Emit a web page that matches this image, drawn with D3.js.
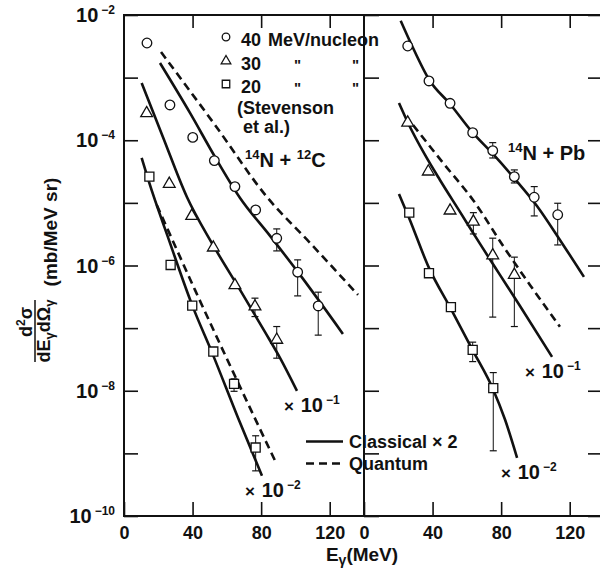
<!doctype html>
<html lang="en">
<head>
<meta charset="utf-8">
<title>14N photon spectra</title>
<script src="https://cdn.jsdelivr.net/npm/d3@7"></script>
<style>
body{
	margin:0px;
	padding:0px;
	background:#fff;
}
svg{
	display:block;
	font-family:"Liberation Sans", Arial, sans-serif;
	font-weight:bold;
}
</style>
</head>
<body>
<svg id="chartSvg"></svg>
<script>
// values, E in MeV, d2sigma in mb/MeV sr
var xTickVals = [0, 40, 80, 120];
var yDecades = [1e-2, 1e-3, 1e-4, 1e-5, 1e-6, 1e-7, 1e-8, 1e-9, 1e-10];
var yLabelExp = [-2, -4, -6, -8, -10];

// 14N + 12C, data (Stevenson et al.)
var cE40 = [13.4, 26.8, 40.1, 52.7, 64.7, 76.8, 89.1, 101.3, 113.3];
var cV40 = [3.57e-3, 3.66e-4, 1.11e-4, 4.73e-5, 1.82e-5, 7.71e-6, 2.72e-6, 7.82e-7, 2.26e-7];
var cLo40 = [null, null, null, null, null, null, 1.71e-6, 3.27e-7, 7.73e-8];
var cHi40 = [null, null, null, null, null, null, 3.84e-6, 1.23e-6, 3.75e-7];
var cE30 = [13.2, 26.4, 39.5, 52.1, 64.7, 76.4, 89.1];
var cV30 = [2.70e-4, 2.01e-5, 6.19e-6, 1.93e-6, 4.84e-7, 2.21e-7, 6.50e-8];
var cLo30 = [null, null, null, null, null, 1.53e-7, 3.31e-8];
var cHi30 = [null, null, null, null, null, 3.01e-7, 1.06e-7];
var cE20 = [14.8, 27.2, 39.8, 52.1, 64.2, 76.8];
var cV20 = [2.62e-5, 1.02e-6, 2.29e-7, 4.23e-8, 1.29e-8, 1.24e-9];
var cLo20 = [null, null, null, null, 9.8e-9, 5.26e-10];
var cHi20 = [null, null, null, null, 1.55e-8, 1.91e-9];

// 14N + 12C, calculations
var cClE40 = [21.0, 38.5, 53.1, 67.7, 85.2, 102.7, 127.7];
var cClV40 = [1.71e-3, 2.73e-4, 5.41e-5, 1.20e-5, 2.97e-6, 7.08e-7, 8.09e-8];
var cQuE40 = [21.6, 53.1, 83.4, 108.5, 136.5];
var cQuV40 = [2.56e-3, 1.75e-4, 1.24e-5, 2.30e-6, 3.40e-7];
var cClE30 = [10.3, 22.7, 36.7, 51.9, 67.7, 82.2, 91.0, 100.9];
var cClV30 = [8.22e-4, 1.13e-4, 1.24e-5, 2.13e-6, 4.08e-7, 8.71e-8, 3.35e-8, 9.95e-9];
var cClE20 = [10.3, 14.2, 26.8, 39.7, 51.9, 66.5, 80.5];
var cClV20 = [5.21e-5, 2.32e-5, 2.30e-6, 2.35e-7, 3.74e-8, 3.70e-9, 4.39e-10];
var cQuE20 = [19.1, 41.4, 63.6, 88.7];
var cQuV20 = [9.27e-6, 4.08e-7, 2.00e-8, 7.06e-10];

// 14N + Pb, data
var pE40 = [25.5, 37.9, 50.2, 63.4, 75.1, 87.7, 99.3, 113.0];
var pV40 = [3.20e-3, 8.85e-4, 3.89e-4, 1.32e-4, 6.82e-5, 2.62e-5, 1.23e-5, 6.46e-6];
var pLo40 = [null, null, null, null, 5.21e-5, 2.08e-5, 6.19e-6, 2.13e-6];
var pHi40 = [null, null, null, null, 9.16e-5, 3.36e-5, 1.82e-5, 9.86e-6];
var pE30 = [25.5, 37.5, 50.2, 63.8, 75.1, 87.7];
var pV30 = [1.91e-4, 3.16e-5, 7.52e-6, 5.01e-6, 1.45e-6, 7.08e-7];
var pLo30 = [null, null, null, 3.19e-6, 1.50e-7, 1.06e-7];
var pHi30 = [null, null, null, 6.98e-6, 2.73e-6, 1.36e-6];
var pE20 = [26.4, 37.9, 50.7, 63.4, 75.4];
var pV20 = [6.98e-6, 7.53e-7, 2.16e-7, 4.50e-8, 1.10e-8];
var pLo20 = [null, null, null, 2.92e-8, 1.10e-9];
var pHi20 = [null, null, null, 5.97e-8, 1.95e-8];

// 14N + Pb, calculations
var pClE40 = [21.4, 27.8, 38.1, 50.2, 63.0, 75.2, 87.5, 100.9, 114.3, 128.3];
var pClV40 = [8.11e-3, 3.32e-3, 9.18e-4, 3.79e-4, 1.36e-4, 6.04e-5, 2.50e-5, 8.93e-6, 2.56e-6, 6.58e-7];
var pClE30 = [20.4, 25.7, 35.6, 44.3, 56.0, 67.7, 79.3, 91.0, 109.7];
var pClV30 = [3.94e-4, 1.89e-4, 5.82e-5, 2.32e-5, 7.18e-6, 2.21e-6, 7.08e-7, 2.26e-7, 3.48e-8];
var pQuE30 = [28.6, 46.1, 63.6, 82.3, 96.8, 114.3];
var pQuV30 = [1.75e-4, 4.35e-5, 1.11e-5, 1.84e-6, 4.90e-7, 1.05e-7];
var pClE20 = [20.4, 26.3, 37.9, 50.7, 63.6, 75.2, 82.3, 89.3];
var pClV20 = [1.39e-5, 5.75e-6, 9.16e-7, 2.03e-7, 4.34e-8, 1.07e-8, 3.44e-9, 8.49e-10];

var ink = "#111";
var width = 600, height = 569;
var mTop = 15, mBottom = 516, mLeft = 124, mMid = 364, mRight = 604;

var svg = d3.select("#chartSvg").attr("width", width).attr("height", height);

var y = d3.scaleLog().domain([1e-10, 1e-2]).range([mBottom, mTop]);
var xL = d3.scaleLinear().domain([0, 140]).range([mLeft, mMid]);
var xR = d3.scaleLinear().domain([0, 140]).range([mMid, mRight]);

function cleanAxis(g){
	g.select(".domain").remove();
	g.selectAll(".tick line").attr("stroke", ink).attr("stroke-width", 1.6);
	g.selectAll(".tick text").attr("fill", ink).attr("font-size", 18).attr("font-family", "Liberation Sans, Arial, sans-serif").attr("font-weight", "bold");
}

//x axes, bottom with labels, top ticks only
[xL, xR].forEach(function(sc){
	svg.append("g")
		.attr("transform", "translate(0," + mBottom + ")")
		.call(d3.axisBottom(sc).tickValues(xTickVals).tickSize(-14).tickPadding(10).tickFormat(d3.format("d")))
		.call(cleanAxis);
	svg.append("g")
		.attr("transform", "translate(0," + mTop + ")")
		.call(d3.axisTop(sc).tickValues(xTickVals.slice(1)).tickSize(-13).tickFormat(""))
		.call(cleanAxis);
});

//y axes: left edge, divider, right edge
svg.append("g").attr("transform", "translate(" + mLeft + ",0)")
	.call(d3.axisLeft(y).tickValues(yDecades).tickSize(-14).tickFormat("")).call(cleanAxis);
svg.append("g").attr("transform", "translate(" + mMid + ",0)")
	.call(d3.axisLeft(y).tickValues(yDecades).tickSize(-15).tickFormat("")).call(cleanAxis);
svg.append("g").attr("transform", "translate(" + width + ",0)")
	.call(d3.axisRight(y).tickValues(yDecades).tickSize(-12).tickFormat("")).call(cleanAxis);

//y tick labels 10^n
yLabelExp.forEach(function(e){
	var t = svg.append("text")
		.attr("x", 115)
		.attr("y", y(Math.pow(10, e)) + 7)
		.attr("text-anchor", "end")
		.attr("fill", ink);
	t.append("tspan").attr("font-size", 20).text("10");
	t.append("tspan").attr("font-size", 12).attr("dy", -8).attr("dx", 3).text("\u2212" + (-e));
});

//frame
svg.append("g").selectAll("line")
	.data([[mLeft, mTop, width + 2, mTop], [mLeft, mBottom, width + 2, mBottom], [mLeft, mTop, mLeft, mBottom], [mMid, mTop, mMid, mBottom]])
	.join("line")
	.attr("x1", function(d){return d[0];})
	.attr("y1", function(d){return d[1];})
	.attr("x2", function(d){return d[2];})
	.attr("y2", function(d){return d[3];})
	.attr("stroke", ink)
	.attr("stroke-width", 2)
	.attr("stroke-linecap", "square");

//curves
function drawCurve(sc, E, V, dashed){
	var line = d3.line()
		.x(function(d){return sc(d[0]);})
		.y(function(d){return y(d[1]);})
		.curve(d3.curveMonotoneX);
	svg.append("path")
		.attr("d", line(d3.zip(E, V)))
		.attr("fill", "none")
		.attr("stroke", ink)
		.attr("stroke-width", 2.6)
		.attr("stroke-dasharray", dashed ? "8,5" : null);
}
drawCurve(xL, cClE40, cClV40, false);
drawCurve(xL, cQuE40, cQuV40, true);
drawCurve(xL, cClE30, cClV30, false);
drawCurve(xL, cClE20, cClV20, false);
drawCurve(xL, cQuE20, cQuV20, true);
drawCurve(xR, pClE40, pClV40, false);
drawCurve(xR, pClE30, pClV30, false);
drawCurve(xR, pQuE30, pQuV30, true);
drawCurve(xR, pClE20, pClV20, false);

//markers
function marker(sel, shape, big){
	if(shape == "circle"){
		sel.append("circle").attr("r", big ? 4.8 : 3.8);
	}else{
		var type = shape == "triangle" ? d3.symbolTriangle : d3.symbolSquare;
		var size = shape == "triangle" ? (big ? 60 : 40) : (big ? 82 : 56);
		sel.append("path").attr("d", d3.symbol().type(type).size(size)());
	}
	sel.attr("fill", "#fff").attr("stroke", ink).attr("stroke-width", 1.3);
}
function drawPoints(sc, E, V, lo, hi, shape){
	var g = svg.append("g");
	for(var i = 0; i < E.length; i++){
		if(hi[i] != null){
			var cx = sc(E[i]);
			g.append("line").attr("x1", cx).attr("x2", cx).attr("y1", y(hi[i])).attr("y2", y(lo[i]))
				.attr("stroke", ink).attr("stroke-width", 1);
			[hi[i], lo[i]].forEach(function(v){
				g.append("line").attr("x1", cx - 3.5).attr("x2", cx + 3.5).attr("y1", y(v)).attr("y2", y(v))
					.attr("stroke", ink).attr("stroke-width", 1.2);
			});
		}
		marker(g.append("g").attr("transform", "translate(" + sc(E[i]) + "," + y(V[i]) + ")"), shape, true);
	}
}
drawPoints(xL, cE40, cV40, cLo40, cHi40, "circle");
drawPoints(xL, cE30, cV30, cLo30, cHi30, "triangle");
drawPoints(xL, cE20, cV20, cLo20, cHi20, "square");
drawPoints(xR, pE40, pV40, pLo40, pHi40, "circle");
drawPoints(xR, pE30, pV30, pLo30, pHi30, "triangle");
drawPoints(xR, pE20, pV20, pLo20, pHi20, "square");

//legend for data
var legRows = [["circle", "40", "MeV/nucleon", 37], ["triangle", "30", "", 61], ["square", "20", "", 84]];
legRows.forEach(function(r){
	marker(svg.append("g").attr("transform", "translate(226," + r[3] + ")"), r[0], false);
	svg.append("text").attr("x", 241).attr("y", r[3] + 9).attr("font-size", 18).attr("fill", ink).text(r[1]);
	if(r[2]){
		svg.append("text").attr("x", 268).attr("y", r[3] + 9).attr("font-size", 18).attr("fill", ink).text(r[2]);
	}else{
		svg.append("text").attr("x", 294).attr("y", r[3] + 9).attr("font-size", 15).attr("fill", ink).text("\"");
		svg.append("text").attr("x", 352).attr("y", r[3] + 9).attr("font-size", 15).attr("fill", ink).text("\"");
	}
});
svg.append("text").attr("x", 237).attr("y", 114).attr("font-size", 18).attr("fill", ink).text("(Stevenson");
svg.append("text").attr("x", 243).attr("y", 133).attr("font-size", 18).attr("fill", ink).text("et al.)");

//reaction labels
function reaction(x, yy, parts){
	var t = svg.append("text").attr("x", x).attr("y", yy).attr("fill", ink);
	parts.forEach(function(p){
		if(p[1]){
			t.append("tspan").attr("font-size", 13).attr("dy", -8).text(p[0]);
		}else{
			t.append("tspan").attr("font-size", 20).attr("dy", 8).text(p[0]);
		}
	});
}
reaction(245, 167, [["14", 1], ["N + ", 0], ["12", 1], ["C", 0]]);
reaction(508, 160, [["14", 1], ["N + Pb", 0]]);

//scale factor labels
function factor(x, yy, e){
	var t = svg.append("text").attr("x", x).attr("y", yy).attr("fill", ink);
	t.append("tspan").attr("font-size", 17).text("\u00d7 ");
	t.append("tspan").attr("font-size", 20).attr("dx", 2).text("10");
	t.append("tspan").attr("font-size", 12).attr("dy", -8).attr("dx", 3).text("\u2212" + e);
}
factor(284, 412, 1);
factor(245, 497, 2);
factor(525, 378, 1);
factor(501, 479, 2);

//legend for calculations
svg.append("line").attr("x1", 306).attr("x2", 343).attr("y1", 441.5).attr("y2", 441.5)
	.attr("stroke", ink).attr("stroke-width", 2.6);
svg.append("line").attr("x1", 306).attr("x2", 342).attr("y1", 463.5).attr("y2", 463.5)
	.attr("stroke", ink).attr("stroke-width", 2.6).attr("stroke-dasharray", "8,5");
svg.append("text").attr("x", 349).attr("y", 448).attr("font-size", 18).attr("fill", ink).text("Classical \u00d7 2");
svg.append("text").attr("x", 349).attr("y", 470).attr("font-size", 18).attr("fill", ink).text("Quantum");

//axis titles
var xt = svg.append("text").attr("x", 362).attr("y", 561).attr("text-anchor", "middle").attr("fill", ink).attr("font-size", 19);
xt.append("tspan").text("E");
xt.append("tspan").attr("font-size", 14).attr("dy", 4).text("\u03b3");
xt.append("tspan").attr("dy", -4).text("(MeV)");

svg.append("text").attr("transform", "translate(57,232) rotate(-90)").attr("text-anchor", "middle")
	.attr("font-size", 19).attr("fill", ink).text("(mb/MeV sr)");
var num = svg.append("text").attr("transform", "translate(32,322) rotate(-90)").attr("text-anchor", "middle")
	.attr("font-size", 18).attr("fill", ink);
num.append("tspan").text("d");
num.append("tspan").attr("font-size", 12).attr("dy", -7).text("2");
num.append("tspan").attr("dy", 7).text("\u03c3");
svg.append("line").attr("x1", 35).attr("x2", 35).attr("y1", 300).attr("y2", 362).attr("stroke", ink).attr("stroke-width", 1.5);
var den = svg.append("text").attr("transform", "translate(50,331) rotate(-90)").attr("text-anchor", "middle")
	.attr("font-size", 18).attr("fill", ink);
den.append("tspan").text("dE");
den.append("tspan").attr("font-size", 13).attr("dy", 4).text("\u03b3");
den.append("tspan").attr("dy", -4).text("d\u03a9");
den.append("tspan").attr("font-size", 13).attr("dy", 4).text("\u03b3");
</script>
</body>
</html>
